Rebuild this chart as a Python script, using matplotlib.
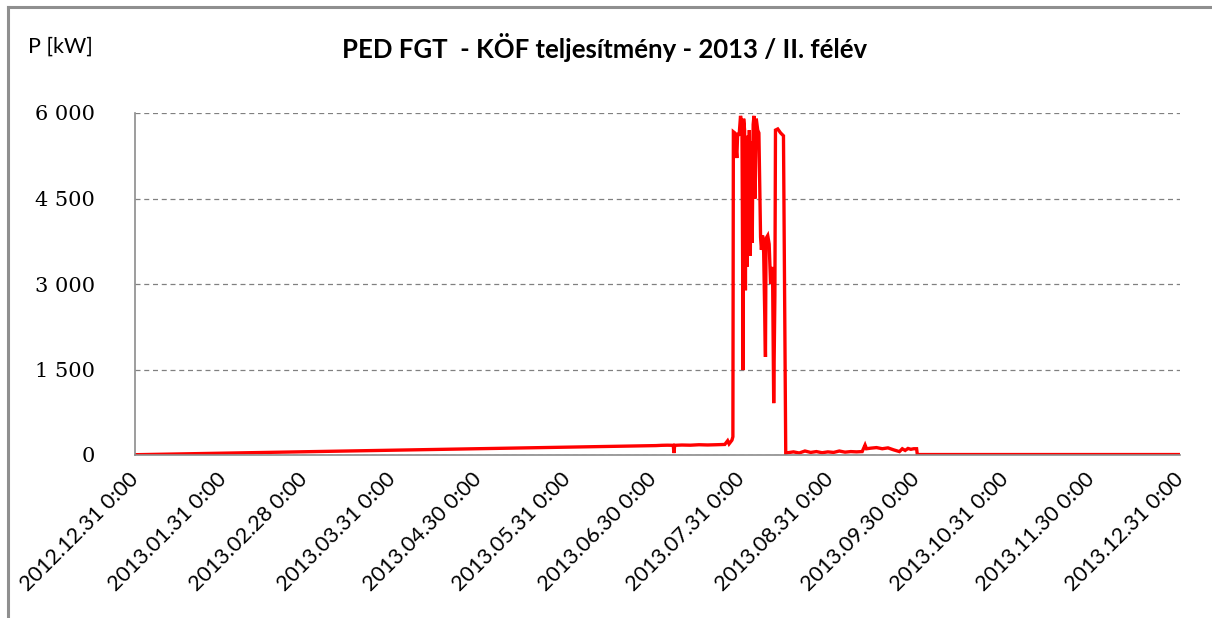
"""
PED FGT - KÖF teljesítmény, 2013 / II. félév
Recreated power curve (kW) with Excel-like styling.
"""

import matplotlib
matplotlib.use("Agg")
import matplotlib.pyplot as plt
import matplotlib.dates as mdates
import matplotlib.ticker as mticker
from matplotlib.lines import Line2D
import pandas as pd

# ── Data ───────────────────────────────────────────────────────────────────────
TITLE = "PED FGT  - KÖF teljesítmény - 2013 / II. félév"
Y_LABEL = "P [kW]"

# gap line start + July base load
base_times = [
    "2012-12-31 00:00", "2013-07-01 00:00", "2013-07-03 00:00", "2013-07-05 00:00",
    "2013-07-07 00:00", "2013-07-07 06:00", "2013-07-07 12:00", "2013-07-10 00:00",
    "2013-07-13 00:00", "2013-07-16 00:00", "2013-07-19 00:00", "2013-07-22 00:00",
    "2013-07-25 00:00", "2013-07-26 00:00", "2013-07-26 12:00", "2013-07-27 12:00",
    "2013-07-27 20:00",
]
base_kw = [
    5, 165, 170, 172,
    170, 35, 170, 175,
    172, 180, 176, 180,
    185, 250, 195, 260,
    320,
]

# operating period end of July - mid August
peak_times = [
    "2013-07-28 00:00", "2013-07-28 12:00", "2013-07-29 05:00", "2013-07-29 12:00",
    "2013-07-30 00:00", "2013-07-30 12:00", "2013-07-31 00:00", "2013-07-31 10:00",
    "2013-07-31 14:00", "2013-07-31 22:00", "2013-08-01 05:00", "2013-08-01 10:00",
    "2013-08-01 17:00", "2013-08-02 00:00", "2013-08-02 07:00", "2013-08-02 14:00",
    "2013-08-02 22:00", "2013-08-03 05:00", "2013-08-03 14:00", "2013-08-03 22:00",
    "2013-08-04 05:00", "2013-08-04 14:00", "2013-08-05 00:00", "2013-08-05 12:00",
    "2013-08-05 22:00", "2013-08-06 12:00", "2013-08-06 19:00", "2013-08-07 05:00",
    "2013-08-07 14:00", "2013-08-08 05:00", "2013-08-08 10:00", "2013-08-09 00:00",
    "2013-08-09 12:00", "2013-08-10 00:00", "2013-08-10 10:00", "2013-08-10 17:00",
    "2013-08-11 02:00", "2013-08-11 12:00", "2013-08-11 17:00", "2013-08-12 12:00",
    "2013-08-13 12:00", "2013-08-14 12:00", "2013-08-15 07:00",
]
peak_kw = [
    5670, 5650, 5210, 5650,
    5600, 5950, 5800, 1490,
    5900, 5700, 2890, 5400,
    3300, 5600, 4000, 5700,
    3500, 5500, 3720, 5800,
    5950, 4500, 5900, 5700,
    5650, 3820, 3600, 3850,
    3550, 1720, 3800, 3850,
    3700, 3000, 3300, 3100,
    910, 2800, 5700, 5720,
    5650, 5600, 30,
]

# low load tail until end of September, then idle
tail_times = [
    "2013-08-16 00:00", "2013-08-18 00:00", "2013-08-20 00:00", "2013-08-22 00:00",
    "2013-08-24 00:00", "2013-08-26 00:00", "2013-08-28 00:00", "2013-08-30 00:00",
    "2013-09-01 00:00", "2013-09-03 00:00", "2013-09-05 00:00", "2013-09-07 00:00",
    "2013-09-09 00:00", "2013-09-11 00:00", "2013-09-12 00:00", "2013-09-12 12:00",
    "2013-09-14 00:00", "2013-09-16 00:00", "2013-09-18 00:00", "2013-09-20 00:00",
    "2013-09-22 00:00", "2013-09-24 00:00", "2013-09-25 00:00", "2013-09-26 00:00",
    "2013-09-27 00:00", "2013-09-28 00:00", "2013-09-29 00:00", "2013-09-30 00:00",
    "2013-09-30 06:00", "2013-12-31 00:00",
]
tail_kw = [
    40, 55, 35, 70,
    45, 60, 40, 55,
    45, 70, 50, 60,
    55, 60, 175, 110,
    120, 130, 110, 125,
    90, 60, 110, 80,
    115, 100, 110, 110,
    8, 8,
]

x_ticks = [
    "2012-12-31", "2013-01-31", "2013-02-28", "2013-03-31", "2013-04-30",
    "2013-05-31", "2013-06-30", "2013-07-31", "2013-08-31", "2013-09-30",
    "2013-10-31", "2013-11-30", "2013-12-31",
]
y_ticks = [0, 1500, 3000, 4500, 6000]

# ── Style ──────────────────────────────────────────────────────────────────────
LINE_RED = "#FF0000"
AXIS_GRAY = "#8C8C8C"
GRID_GRAY = "#808080"
FRAME_GRAY = "#8F8F8F"

W, H = 1212, 618


def main():
    times = pd.to_datetime(base_times + peak_times + tail_times)
    kw = base_kw + peak_kw + tail_kw

    fig = plt.figure(figsize=(W / 100, H / 100), dpi=100)
    fig.patch.set_facecolor("white")
    ax = fig.add_axes([135 / W, 1 - 455 / H, (1180 - 135) / W, (455 - 113) / H])

    ax.plot(times, kw, color=LINE_RED, linewidth=2.4, solid_joinstyle="miter")

    ax.set_ylim(0, 6000)
    ax.set_xlim(pd.Timestamp(x_ticks[0]), pd.Timestamp(x_ticks[-1]))

    ax.set_yticks(y_ticks)
    ax.yaxis.set_major_formatter(
        mticker.FuncFormatter(lambda v, _: f"{int(v):,}".replace(",", " ")))
    ax.set_xticks(pd.to_datetime(x_ticks))
    ax.xaxis.set_major_formatter(mdates.DateFormatter("%Y.%m.%d 0:00"))

    ax.grid(axis="y", color=GRID_GRAY, linestyle=(0, (4, 3)), linewidth=0.9)
    ax.set_axisbelow(True)
    for side in ("top", "right"):
        ax.spines[side].set_visible(False)
    for side in ("left", "bottom"):
        ax.spines[side].set_color(AXIS_GRAY)
        ax.spines[side].set_linewidth(1.2)

    ax.tick_params(axis="both", length=0)
    ax.tick_params(axis="y", pad=29)
    ax.tick_params(axis="x", pad=15)
    for lbl in ax.get_yticklabels():
        lbl.set_fontfamily("DejaVu Serif")
        lbl.set_fontsize(15)
    for lbl in ax.get_xticklabels():
        lbl.set_fontfamily("Lato")
        lbl.set_fontsize(15.5)
        lbl.set_rotation(45)
        lbl.set_ha("right")
        lbl.set_va("center")
        lbl.set_rotation_mode("anchor")

    fig.text(605 / W, 1 - 47 / H, TITLE, ha="center", va="center",
             fontsize=18.5, fontweight="bold", family="Lato")
    fig.text(28 / W, 1 - 47 / H, Y_LABEL, ha="left", va="center",
             fontsize=15.5, family="Lato")

    # outer frame (top and left edges only)
    fig.add_artist(Line2D([8 / W, 1], [1 - 7 / H, 1 - 7 / H],
                          transform=fig.transFigure, color=FRAME_GRAY, linewidth=2.2))
    fig.add_artist(Line2D([8 / W, 8 / W], [0, 1 - 7 / H],
                          transform=fig.transFigure, color=FRAME_GRAY, linewidth=2.2))

    fig.savefig("out.png", dpi=100)


if __name__ == "__main__":
    main()
